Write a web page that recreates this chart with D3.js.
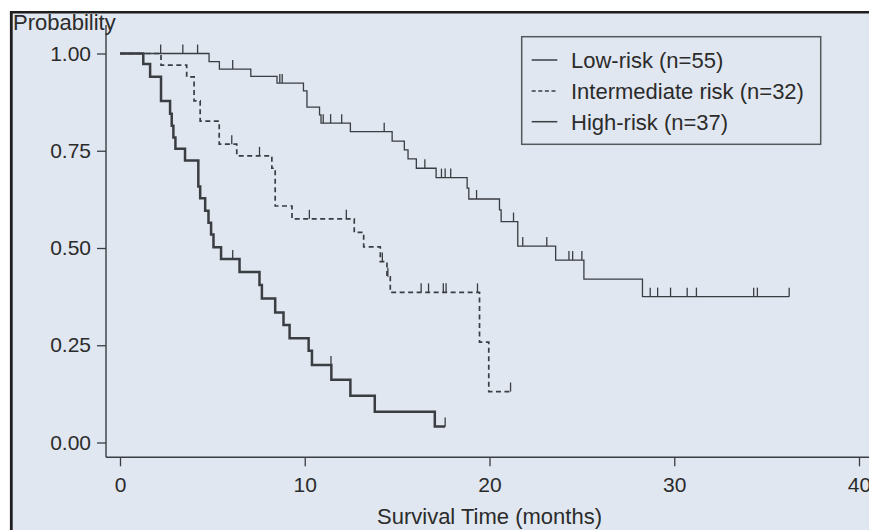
<!DOCTYPE html>
<html>
<head>
<meta charset="utf-8">
<script src="https://cdn.jsdelivr.net/npm/d3@7"></script>
<style>
  body { margin: 0; background: #ffffff; }
  text { font-family: "Liberation Sans", Arial, sans-serif; fill: #2b2b2b; }
  .axis text { font-size: 21px; }
  .axis-title { font-size: 22px; }
  .legend text { font-size: 22px; }
</style>
</head>
<body>
<svg id="km-plot" width="869" height="530"></svg>
<script>
// svg size
const width = 869;
const height = 530;

// step points: [months, survival probability]
const lowRisk = [
  [0, 1], [4.82, 0.979], [5.38, 0.960], [7.08, 0.941], [8.5, 0.924],
  [9.93, 0.904], [10.12, 0.862], [10.80, 0.842], [10.88, 0.821], [12.47, 0.799],
  [14.73, 0.775], [15.39, 0.752], [15.59, 0.729], [16.04, 0.705], [17.11, 0.681],
  [18.79, 0.654], [18.88, 0.626], [20.54, 0.598], [20.63, 0.568], [21.53, 0.505],
  [23.58, 0.469], [25.11, 0.420], [28.28, 0.375], [36.22, 0.375]
];
const intermediateRisk = [
  [0, 1], [2.22, 0.970], [3.61, 0.940], [4.01, 0.878], [4.34, 0.826],
  [5.37, 0.767], [6.32, 0.737], [8.22, 0.705], [8.40, 0.608], [9.31, 0.575],
  [12.68, 0.540], [13.19, 0.503], [14.09, 0.465], [14.45, 0.426], [14.63, 0.386],
  [19.46, 0.258], [19.96, 0.131], [21.14, 0.131]
];
const highRisk = [
  [0, 1], [1.26, 0.973], [1.63, 0.940], [2.22, 0.878], [2.71, 0.845],
  [2.80, 0.814], [2.89, 0.784], [3.0, 0.755], [3.52, 0.725], [4.24, 0.658],
  [4.34, 0.628], [4.61, 0.596], [4.79, 0.565], [4.93, 0.535], [5.06, 0.502],
  [5.47, 0.472], [6.47, 0.438], [7.55, 0.405], [7.68, 0.370], [8.40, 0.334],
  [8.85, 0.302], [9.18, 0.268], [10.21, 0.236], [10.39, 0.199], [11.44, 0.161],
  [12.47, 0.120], [13.79, 0.079], [17.04, 0.041], [17.6, 0.041]
];

// censoring times (months)
const lowCensored = [2.2, 3.4, 4.2, 6.1, 8.65, 8.78, 11.0, 11.4, 12.0, 14.3, 16.5,
  17.4, 17.6, 17.9, 19.3, 21.3, 21.8, 23.1, 24.3, 24.5, 25.0, 28.7, 29.1, 29.8,
  30.7, 31.2, 34.3, 34.5, 36.22];
const intermediateCensored = [6.05, 7.55, 10.25, 12.25, 14.2, 14.5, 16.3, 16.7,
  17.5, 17.65, 19.35, 21.14];
const highCensored = [6.1, 11.42, 17.6];

const groups = ['Low-risk (n=55)', 'Intermediate risk (n=32)', 'High-risk (n=37)'];
const xTicks = [0, 10, 20, 30, 40];
const yTicks = [0, 0.25, 0.5, 0.75, 1];

const ink = '#3a3d42';
const styles = [
  { width: 1.3, dash: null },
  { width: 1.7, dash: '5,3.5' },
  { width: 2.5, dash: null }
];

const svg = d3.select('#km-plot');

const scales = {
  x: d3.scaleLinear().domain([0, 40]).range([120, 859]),
  y: d3.scaleLinear().domain([0, 1]).range([442.5, 53.5])
};

drawFrame();
drawAxis();
drawTitles();
drawCurves();
drawLegend();

/*
 * panel background with the dark left and top edges
 */
function drawFrame() {
  svg.append('rect')
     .attr('x', 11).attr('y', 12)
     .attr('width', width - 11).attr('height', height - 12)
     .attr('fill', '#e1e7f0');

  svg.append('line')
     .attr('x1', 11.3).attr('x2', 11.3)
     .attr('y1', 11).attr('y2', height)
     .attr('stroke', '#1e1e1e').attr('stroke-width', 2.8);

  svg.append('line')
     .attr('x1', 10).attr('x2', width)
     .attr('y1', 12.2).attr('y2', 12.2)
     .attr('stroke', '#1e1e1e').attr('stroke-width', 2.6);
}

function drawAxis() {
  const xAxis = d3.axisBottom(scales.x)
                  .tickValues(xTicks)
                  .tickSizeInner(9)
                  .tickSizeOuter(0)
                  .tickPadding(11);
  const yAxis = d3.axisLeft(scales.y)
                  .tickValues(yTicks)
                  .tickFormat(d3.format('.2f'))
                  .tickSizeInner(9)
                  .tickSizeOuter(0)
                  .tickPadding(6);

  const xGroup = svg.append('g')
                    .attr('class', 'axis')
                    .attr('transform', translate(0, 457.3))
                    .call(xAxis);
  const yGroup = svg.append('g')
                    .attr('class', 'axis')
                    .attr('transform', translate(106, 0))
                    .call(yAxis);

  // axis lines run past the scale ranges, draw them by hand
  xGroup.select('.domain').remove();
  yGroup.select('.domain').remove();

  xGroup.append('line')
        .attr('x1', 106).attr('x2', width)
        .attr('stroke', ink).attr('stroke-width', 1.4);
  yGroup.append('line')
        .attr('y1', 25).attr('y2', 457.3)
        .attr('stroke', ink).attr('stroke-width', 1.4);

  svg.selectAll('.axis .tick line')
     .attr('stroke', ink).attr('stroke-width', 1.3);
  svg.selectAll('.axis .tick text')
     .attr('fill', '#2b2b2b');
}

function drawTitles() {
  svg.append('text')
     .attr('class', 'axis-title')
     .attr('x', 13)
     .attr('y', 30)
     .text('Probability');

  svg.append('text')
     .attr('class', 'axis-title')
     .attr('x', scales.x(20))
     .attr('y', 524)
     .attr('text-anchor', 'middle')
     .text('Survival Time (months)');
}

function drawCurves() {
  const plot = svg.append('g').attr('id', 'curves');
  const line = d3.line()
                 .x(d => scales.x(d[0]))
                 .y(d => scales.y(d[1]))
                 .curve(d3.curveStepAfter);

  const series = [lowRisk, intermediateRisk, highRisk];
  const censored = [lowCensored, intermediateCensored, highCensored];
  const bisect = d3.bisector(d => d[0]).right;

  series.forEach((s, i) => {
    plot.append('path')
        .datum(s)
        .attr('d', line)
        .attr('fill', 'none')
        .attr('stroke', ink)
        .attr('stroke-width', styles[i].width)
        .attr('stroke-dasharray', styles[i].dash);

    // censor ticks sit on the step the curve is at at that time
    plot.selectAll('.censor-' + i)
        .data(censored[i])
        .enter()
        .append('line')
        .attr('class', 'censor-' + i)
        .attr('x1', t => scales.x(t))
        .attr('x2', t => scales.x(t))
        .attr('y1', t => scales.y(s[Math.max(0, bisect(s, t) - 1)][1]))
        .attr('y2', t => scales.y(s[Math.max(0, bisect(s, t) - 1)][1]) - 9)
        .attr('stroke', ink)
        .attr('stroke-width', 1.3);
  });
}

function drawLegend() {
  const group = svg.append('g').attr('class', 'legend');

  group.append('rect')
       .attr('x', 521.7).attr('y', 36.7)
       .attr('width', 299).attr('height', 107.6)
       .attr('fill', 'none')
       .attr('stroke', '#55585c')
       .attr('stroke-width', 1.5);

  const rows = [60, 91, 121.7];
  groups.forEach((g, i) => {
    group.append('line')
         .attr('x1', 531.7).attr('x2', 557.3)
         .attr('y1', rows[i]).attr('y2', rows[i])
         .attr('stroke', ink)
         .attr('stroke-width', 1.5)
         .attr('stroke-dasharray', i === 1 ? '4,2.6' : null);

    group.append('text')
         .attr('x', 571)
         .attr('y', rows[i])
         .attr('dy', '0.36em')
         .text(g);
  });
}

/*
 * returns a translate string for the transform attribute
 */
function translate(x, y) {
  return 'translate(' + String(x) + ',' + String(y) + ')';
}
</script>
</body>
</html>
